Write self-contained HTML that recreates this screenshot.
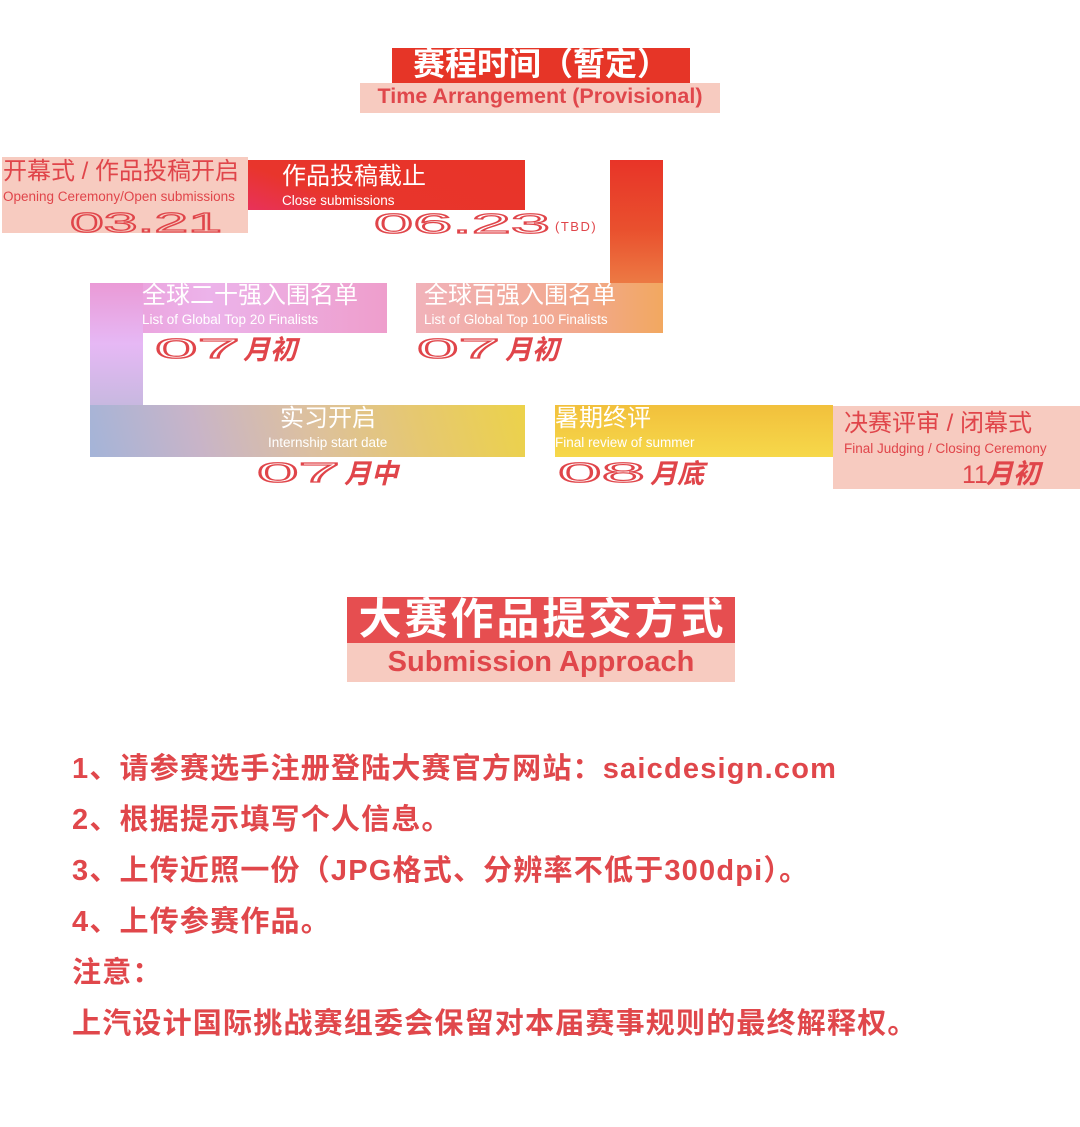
<!DOCTYPE html>
<html><head><meta charset="utf-8"><style>
*{margin:0;padding:0;box-sizing:border-box}
body{width:1080px;height:1127px;background:#fff;position:relative;overflow:hidden;font-family:"Liberation Sans","Noto Sans CJK SC",sans-serif}
.a{position:absolute}
.t{white-space:nowrap;line-height:1}
.red{color:#e0454a}
.w{color:#fff}
.cn{font-size:24px}
.en{font-size:13.5px}
</style></head><body>
<!-- title 1 -->
<div class="a" style="left:392px;top:48px;width:298px;height:35px;background:#e63527"></div>
<div class="a" style="left:360px;top:83px;width:360px;height:30px;background:#f7cbc0"></div>
<div class="a t w" style="left:392px;top:48px;width:298px;text-align:center;font-size:32px;font-weight:bold;">赛程时间（暂定）</div>
<div class="a t" style="left:360px;top:86px;width:360px;text-align:center;font-size:21.5px;font-weight:bold;color:#e0474b">Time Arrangement (Provisional)</div>

<!-- shapes -->
<div class="a" style="left:2px;top:157px;width:246px;height:76px;background:#f7cbc0"></div>
<div class="a" style="left:248px;top:160px;width:277px;height:50px;background:linear-gradient(20deg,#e8325a 0%,#e8352c 30%,#e83428 100%)"></div>
<div class="a" style="left:610px;top:160px;width:53px;height:173px;background:linear-gradient(180deg,#e83428 0%,#e9502e 40%,#f0a057 100%)"></div>
<div class="a" style="left:416px;top:283px;width:247px;height:50px;background:linear-gradient(90deg,#f1b2ba 0%,#f2a88a 70%,#f2a860 100%)"></div>
<div class="a" style="left:90px;top:283px;width:297px;height:50px;background:linear-gradient(90deg,#ea9ad6 0%,#ecb3ea 40%,#ee9ecc 100%)"></div>
<div class="a" style="left:90px;top:283px;width:53px;height:174px;background:linear-gradient(180deg,#ea9ad6 0%,#e6b8f5 35%,#c8b8e0 70%,#a8b8d8 100%)"></div>
<div class="a" style="left:90px;top:405px;width:435px;height:52px;background:linear-gradient(75deg,#a4b4d8 0%,#c8b4c8 25%,#dcc0a0 50%,#e6c870 75%,#ecd24a 100%)"></div>
<div class="a" style="left:555px;top:405px;width:278px;height:52px;background:linear-gradient(180deg,#f2c03c 0%,#f6d84a 100%)"></div>
<div class="a" style="left:833px;top:406px;width:247px;height:83px;background:#f7cbc0"></div>

<!-- labels -->
<div class="a t red cn" style="left:3px;top:160px">开幕式 / 作品投稿开启</div>
<div class="a t red en" style="left:3px;top:190px">Opening Ceremony/Open submissions</div>
<div class="a t w cn" style="left:282px;top:165px">作品投稿截止</div>
<div class="a t w en" style="left:282px;top:194px">Close submissions</div>
<div class="a t w cn" style="left:142px;top:284px">全球二十强入围名单</div>
<div class="a t w en" style="left:142px;top:313px">List of Global Top 20 Finalists</div>
<div class="a t w cn" style="left:424px;top:284px">全球百强入围名单</div>
<div class="a t w en" style="left:424px;top:313px">List of Global Top 100 Finalists</div>
<div class="a t w cn" style="left:280px;top:407px">实习开启</div>
<div class="a t w en" style="left:268px;top:436px">Internship start date</div>
<div class="a t w cn" style="left:555px;top:407px">暑期终评</div>
<div class="a t w en" style="left:555px;top:436px">Final review of summer</div>
<div class="a t red cn" style="left:844px;top:412px">决赛评审 / 闭幕式</div>
<div class="a t red en" style="left:844px;top:442px">Final Judging / Closing Ceremony</div>

<svg class="a" style="left:0;top:0" width="1080" height="1127">
<g fill="none" stroke="#e0454a" stroke-width="1.2" font-family="Liberation Sans, sans-serif">
<text x="70" y="232" font-size="28" textLength="152" lengthAdjust="spacingAndGlyphs">03.21</text>
<text x="374" y="233" font-size="28" textLength="176" lengthAdjust="spacingAndGlyphs">06.23</text>
<text x="155" y="358" font-size="28" textLength="85" lengthAdjust="spacingAndGlyphs">07</text>
<text x="417" y="358" font-size="28" textLength="83" lengthAdjust="spacingAndGlyphs">07</text>
<text x="257" y="482" font-size="28" textLength="83" lengthAdjust="spacingAndGlyphs">07</text>
<text x="558" y="482" font-size="28" textLength="87" lengthAdjust="spacingAndGlyphs">08</text>
</g>
<g fill="#e0454a" font-family="Liberation Sans, Noto Sans CJK SC, sans-serif" font-style="italic" font-weight="bold">
<text x="243" y="359" font-size="27">月初</text>
<text x="505" y="359" font-size="27">月初</text>
<text x="344" y="483" font-size="27">月中</text>
<text x="650" y="483" font-size="27">月底</text>
<text x="986" y="483" font-size="27">月初</text>
</g>
<text x="555" y="231" font-size="13" fill="#e0454a" font-family="Liberation Sans, sans-serif" letter-spacing="1.5">(TBD)</text>
<text x="962" y="483" font-size="25" fill="#e0454a" font-family="Liberation Sans, sans-serif">11</text>
</svg>

<!-- title 2 -->
<div class="a" style="left:347px;top:597px;width:388px;height:46px;background:#e64e50"></div>
<div class="a" style="left:347px;top:643px;width:388px;height:39px;background:#f7cbc0"></div>
<div class="a t w" style="left:347px;top:599px;width:388px;text-align:center;font-size:43px;font-weight:bold;letter-spacing:3px;text-indent:3px">大赛作品提交方式</div>
<div class="a t" style="left:347px;top:648px;width:388px;text-align:center;font-size:29px;font-weight:bold;color:#e0474b">Submission Approach</div>

<div class="a t" style="left:72px;top:744px;font-size:29px;font-weight:bold;color:#e0474b;line-height:51px;letter-spacing:1.2px">
1、请参赛选手注册登陆大赛官方网站：saicdesign.com<br>
2、根据提示填写个人信息。<br>
3、上传近照一份（JPG格式、分辨率不低于300dpi）。<br>
4、上传参赛作品。<br>
注意：<br>
上汽设计国际挑战赛组委会保留对本届赛事规则的最终解释权。
</div>
</body></html>
